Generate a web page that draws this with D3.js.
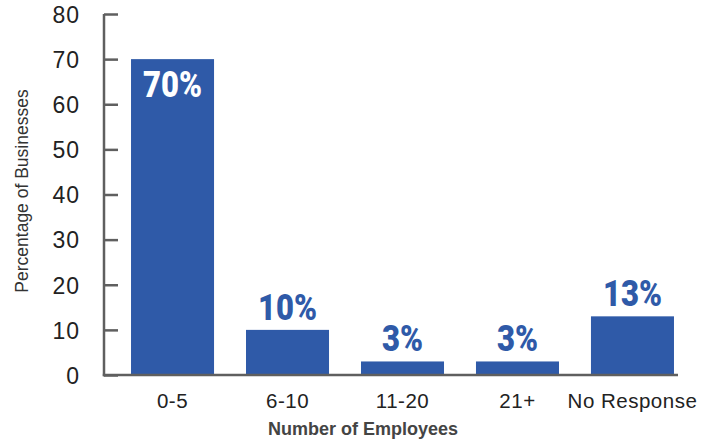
<!DOCTYPE html>
<html>
<head>
<meta charset="utf-8">
<script src="https://cdn.jsdelivr.net/npm/d3@7"></script>
<style>
  html, body { margin: 0; padding: 0; background: #fff; }
  svg { display: block; }
</style>
</head>
<body>
<svg id="chart" width="721" height="442"></svg>
<script>
// Share of businesses by number of employees
const categories = ["0-5", "6-10", "11-20", "21+", "No Response"];
const percentages = [70, 10, 3, 3, 13];
const yTicks = [0, 10, 20, 30, 40, 50, 60, 70, 80];

const barColor = "#2F5AA8";
const axisColor = "#5f5f5f";

const svg = d3.select("#chart");

const y = d3.scaleLinear().domain([0, 80]).range([375, 14]);
const x = d3.scaleBand()
  .domain(categories)
  .range([104, 701])
  .paddingInner(0.278)
  .paddingOuter(0.235);

// Bars
svg.append("g").selectAll("rect")
  .data(categories)
  .join("rect")
  .attr("x", d => x(d))
  .attr("width", x.bandwidth())
  .attr("y", (d, i) => y(percentages[i]))
  .attr("height", (d, i) => y(0) - y(percentages[i]))
  .attr("fill", barColor);

// Y axis
const yAxis = d3.axisLeft(y).tickValues(yTicks).tickSize(0).tickPadding(0);
const gy = svg.append("g").attr("transform", "translate(104,0)").call(yAxis);
gy.select(".domain").remove();
gy.selectAll(".tick text")
  .attr("x", -24)
  .attr("dy", "0.36em")
  .attr("fill", "#222")
  .style("font-family", "'Liberation Sans', Arial, sans-serif")
  .style("font-size", "23px")
  .style("letter-spacing", "1px");
gy.selectAll(".tick").append("line")
  .attr("x1", 0).attr("x2", 14)
  .attr("stroke", axisColor).attr("stroke-width", 2.5);
svg.append("line")
  .attr("x1", 104).attr("x2", 104)
  .attr("y1", y(80)).attr("y2", y(0) + 1.2)
  .attr("stroke", axisColor).attr("stroke-width", 2.5);

// X axis baseline and category labels
svg.append("line")
  .attr("x1", 102.8).attr("x2", 678)
  .attr("y1", y(0)).attr("y2", y(0))
  .attr("stroke", axisColor).attr("stroke-width", 2.5);

const xAxis = d3.axisBottom(x).tickSize(0).tickPadding(0);
const gx = svg.append("g").attr("transform", `translate(0,${y(0)})`).call(xAxis);
gx.select(".domain").remove();
gx.selectAll(".tick text")
  .attr("y", 33)
  .attr("dy", 0)
  .attr("fill", "#222")
  .style("font-family", "'Liberation Sans', Arial, sans-serif")
  .style("font-size", "20.5px")
  .style("letter-spacing", "0.5px");

// Value labels: heavy, horizontally condensed
svg.append("g").selectAll("text")
  .data(categories)
  .join("text")
  .attr("transform", (d, i) => {
    const cx = x(d) + x.bandwidth() / 2;
    const by = percentages[i] > 40 ? y(percentages[i]) + 38 : y(percentages[i]) - 10;
    return `translate(${cx},${by}) scale(0.84,1)`;
  })
  .attr("text-anchor", "middle")
  .attr("fill", (d, i) => percentages[i] > 40 ? "#fff" : barColor)
  .style("font-family", "Roboto, 'DejaVu Sans Condensed', sans-serif")
  .style("font-weight", "900")
  .style("font-size", "37px")
  .text((d, i) => percentages[i] + "%");

// Axis titles
svg.append("text")
  .attr("x", 363).attr("y", 435)
  .attr("text-anchor", "middle")
  .attr("fill", "#444")
  .style("font-family", "'Liberation Sans', Arial, sans-serif")
  .style("font-weight", "bold")
  .style("font-size", "18px")
  .text("Number of Employees");

svg.append("text")
  .attr("transform", "translate(28,191) rotate(-90)")
  .attr("text-anchor", "middle")
  .attr("fill", "#333")
  .style("font-family", "'Liberation Sans', Arial, sans-serif")
  .style("font-size", "17.5px")
  .text("Percentage of Businesses");
</script>
</body>
</html>
